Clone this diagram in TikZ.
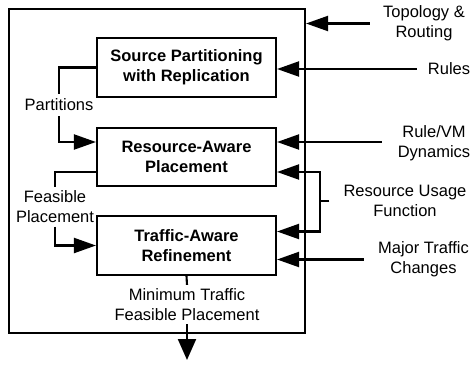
\documentclass[tikz,border=0pt]{standalone}
\usepackage{fontspec}
\setmainfont{Liberation Sans}
\usetikzlibrary{arrows.meta, positioning, calc}

\newcommand{\labelfont}{\fontsize{16.5}{20}\selectfont}

\tikzset{
  stage/.style={draw, line width=2.1pt, minimum width=179pt, minimum height=59pt, align=center, font=\labelfont\bfseries},
  lbl/.style={align=center, inner xsep=13pt},
  arr/.style={line width=2.1pt, -{Triangle[length=22pt,width=15pt]}},
  wire/.style={line width=2.1pt}
}

\begin{document}
\begin{tikzpicture}[x=1pt, y=-1pt, font=\labelfont]
    \useasboundingbox (0,0) rectangle (471,365);

    % Outer frame
    \node[draw, line width=2.1pt, minimum width=296pt, minimum height=324pt] (outer) at (157,171) {};

    % The three stages
    \node[stage] (part) at (186.5,67.5) {Source Partitioning\\with Replication};
    \node[stage, minimum height=58pt] (place) at (186.5,157) {Resource-Aware\\Placement};
    \node[stage] (refine) at (186.5,245.5) {Traffic-Aware\\Refinement};

    % Inputs on the right
    \node[lbl] (topo) at (424,23.5) {Topology \&\\Routing};
    \node[lbl, inner xsep=11pt] (rules) at (449,69) {Rules};
    \node[lbl, inner xsep=16pt] (dyn) at (434,143) {Rule/VM\\Dynamics};
    \node[lbl, inner xsep=14pt] (usage) at (405,201) {Resource Usage\\Function};
    \node[lbl, inner xsep=14pt] (major) at (423.5,259) {Major Traffic\\Changes};

    % Labels on the left and below
    \node[inner ysep=5pt] (parts) at (59,105) {Partitions};
    \node[align=center] (feas) at (55,207) {Feasible\\Placement};
    \node[align=center] (mint) at (187,304.5) {Minimum Traffic\\Feasible Placement};

    \coordinate (placeIn) at ([yshift=15pt]place.east);
    \coordinate (placeUse) at ([yshift=-15pt]place.east);
    \coordinate (refUse) at ([yshift=14pt]refine.east);
    \coordinate (refIn) at ([yshift=-14pt]refine.east);
    \coordinate (fork) at (320,201);
    \coordinate (result) at (187,360);

    % Right-hand inputs
    \draw[arr] (topo.west) -- (topo.west -| outer.east);
    \draw[arr] (rules.west) -- (rules.west -| part.east);
    \draw[arr] (dyn.west |- placeIn) -- (placeIn);
    \draw[wire] (usage.west |- fork) -- (fork);
    \draw[arr] (fork) |- (placeUse);
    \draw[arr] (fork) |- (refUse);
    \draw[arr] (major.west |- refIn) -- (refIn);

    % Flow between stages
    \draw[wire] (part.west) -| (parts.north);
    \draw[arr] (parts.south) |- ([yshift=15pt]place.west);
    \draw[wire] ([yshift=-15pt]place.west) -| (feas.north);
    \draw[arr] (feas.south) |- (refine.west);
    \draw[wire] (refine.south) -- (mint.north);
    \draw[line width=2.1pt, -{Triangle[length=21pt,width=18pt]}] (mint.south) -- (result);

\end{tikzpicture}
\end{document}
